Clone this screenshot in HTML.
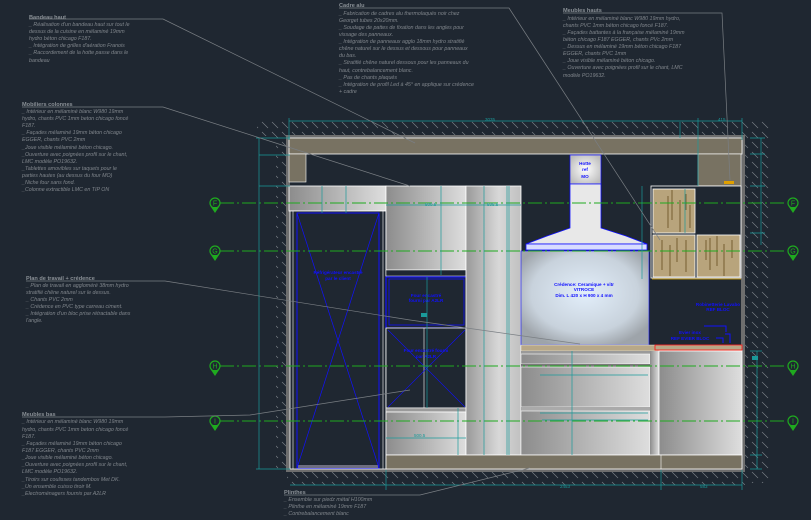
<!DOCTYPE html>
<html><head><meta charset="utf-8"><style>
html,body{margin:0;padding:0;background:#1f2731;}
svg{display:block}
.t{font-family:"Liberation Sans",sans-serif;font-size:5.3px;fill:#80868c;font-style:italic}
.h{font-family:"Liberation Sans",sans-serif;font-size:5.6px;fill:#8a9096;font-weight:bold}
.d{font-family:"Liberation Sans",sans-serif;font-size:4.5px;fill:#1a9a9a}
.b{font-family:"Liberation Sans",sans-serif;font-size:4.6px;fill:#1010ff;font-weight:bold}
.ax{font-family:"Liberation Sans",sans-serif;font-size:7px;fill:#1faa1f}
</style></head><body>
<svg width="811" height="520" viewBox="0 0 811 520" xmlns="http://www.w3.org/2000/svg">
<defs>
<pattern id="hat" width="10" height="10" patternUnits="userSpaceOnUse">
<line x1="2" y1="2" x2="8" y2="8" stroke="#7b8288" stroke-width="0.6"/></pattern>
<linearGradient id="gh" x1="0" x2="1"><stop offset="0" stop-color="#8c8c8c"/><stop offset="1" stop-color="#dedede"/></linearGradient>
<linearGradient id="gh2" x1="0" x2="1"><stop offset="0" stop-color="#9a9a9a"/><stop offset=".6" stop-color="#d8d8d8"/><stop offset="1" stop-color="#c0c0c0"/></linearGradient>
<radialGradient id="gb" cx=".5" cy=".45" r=".6"><stop offset="0" stop-color="#e2eefa"/><stop offset=".7" stop-color="#c8d2dc"/><stop offset="1" stop-color="#9ea4aa"/></radialGradient>
<radialGradient id="gc" cx=".5" cy=".5" r=".6"><stop offset="0" stop-color="#ffffff"/><stop offset="1" stop-color="#bcbcbc"/></radialGradient>
</defs>
<rect width="811" height="520" fill="#1f2731"/>
<!-- hatches -->
<rect x="257" y="121" width="488" height="15" fill="url(#hat)"/>
<rect x="276" y="136" width="11" height="336" fill="url(#hat)"/>
<rect x="745" y="121" width="25" height="362" fill="url(#hat)"/>
<rect x="287" y="472" width="458" height="13" fill="url(#hat)"/>
<!-- walls -->
<rect x="286" y="135" width="459" height="3" fill="#6e6e6e"/>
<rect x="286" y="135" width="4" height="337" fill="#6e6e6e"/>
<rect x="741" y="135" width="4" height="337" fill="#6e6e6e"/>
<rect x="286" y="469" width="459" height="3" fill="#6e6e6e"/>
<!-- bandeau -->
<rect x="289" y="138" width="453" height="16" fill="#787262" stroke="#fff" stroke-width="0.8"/>
<rect x="289" y="154" width="17" height="28" fill="#787262" stroke="#fff" stroke-width="0.6"/>
<rect x="698" y="154" width="43" height="32" fill="#787262" stroke="#fff" stroke-width="0.6"/>
<rect x="698" y="186" width="43" height="47" fill="#7c7668" stroke="#fff" stroke-width="0.6"/>
<!-- left column -->
<rect x="289" y="186" width="97" height="25" fill="url(#gh)" stroke="#fff" stroke-width="0.8"/>
<rect x="290" y="211" width="96" height="258" fill="#1f2731" stroke="#fff" stroke-width="0.8"/>
<line x1="293" y1="211" x2="293" y2="469" stroke="#fff" stroke-width="0.6"/>
<line x1="383" y1="211" x2="383" y2="469" stroke="#fff" stroke-width="0.6"/>
<rect x="297" y="213" width="82" height="255" fill="none" stroke="#1010ff" stroke-width="1"/>
<rect x="298" y="465" width="80" height="3" fill="#6e6e80"/>
<path d="M297 213L379 468M379 213L297 468" stroke="#1010ff" stroke-width="0.7"/>
<text class="b" x="338" y="274" text-anchor="middle">Réfrigérateur encastré</text>
<text class="b" x="338" y="280" text-anchor="middle">par le client</text>
<!-- middle column -->
<rect x="386" y="186" width="80" height="84" fill="url(#gh)" stroke="#fff" stroke-width="0.8"/>
<rect x="386" y="270" width="80" height="6" fill="#1f2731" stroke="#fff" stroke-width="0.5"/>
<rect x="386" y="277" width="81" height="51" fill="#1f2731" stroke="#1010ff" stroke-width="1.2"/>
<rect x="389" y="279" width="75" height="46" fill="none" stroke="#1010ff" stroke-width="0.8"/>
<text class="b" x="426" y="297" text-anchor="middle">Four encastré</text>
<text class="b" x="426" y="302" text-anchor="middle">fourni par A2LR</text>
<rect x="421" y="313" width="6" height="4" fill="#1a9a9a"/>
<rect x="386" y="328" width="80" height="80" fill="#1f2731" stroke="#fff" stroke-width="0.8"/>
<line x1="424" y1="328" x2="424" y2="408" stroke="#fff" stroke-width="0.6"/>
<path d="M388 330L465 407M465 330L388 407" stroke="#1010ff" stroke-width="0.6"/>
<text class="b" x="426" y="352" text-anchor="middle">Four encastré fourni</text>
<text class="b" x="426" y="358" text-anchor="middle">par A2LR</text>
<rect x="386" y="408" width="80" height="4" fill="#9a9a9a" stroke="#fff" stroke-width="0.5"/>
<rect x="386" y="412" width="80" height="43" fill="url(#gh)" stroke="#fff" stroke-width="0.8"/>
<!-- tall col -->
<rect x="466" y="186" width="55" height="269" fill="url(#gh2)" stroke="#fff" stroke-width="0.8"/>
<!-- hood -->
<rect x="570" y="155" width="31" height="29" fill="url(#gc)" stroke="#1010ff" stroke-width="0.7"/>
<text class="b" x="585" y="165" text-anchor="middle">Hotte</text>
<text class="b" x="585" y="171" text-anchor="middle">ref</text>
<text class="b" x="585" y="178" text-anchor="middle">MO</text>
<path d="M570 184H601V228L626 236L647 244H526L547 236L570 228Z" fill="#e8e8e8" stroke="#1010ff" stroke-width="0.8"/>
<rect x="526" y="244" width="121" height="6" fill="#d8dcff" stroke="#1010ff" stroke-width="0.8"/>
<rect x="521" y="251" width="128" height="94" fill="url(#gb)" stroke="#1010ff" stroke-width="0.6"/>
<text class="b" x="584" y="286" text-anchor="middle">Crédence: Ceramique + vitr</text>
<text class="b" x="584" y="291" text-anchor="middle">VITROCE</text>
<text class="b" x="584" y="297" text-anchor="middle">Dim. L 420 x H 900 x 4 mm</text>
<!-- wood upper cabinets -->
<rect x="651" y="186" width="90" height="92" fill="#1f2731" stroke="#fff" stroke-width="0.8"/>
<rect x="653" y="189" width="42" height="44" fill="#b8a47c" stroke="#fff" stroke-width="0.8"/>
<rect x="653" y="235" width="42" height="42" fill="#b8a47c" stroke="#fff" stroke-width="0.8"/>
<rect x="697" y="235" width="43" height="42" fill="#b8a47c" stroke="#fff" stroke-width="0.8"/>
<g stroke="#5a4010" stroke-width="0.7">
<path d="M668 196V228M672 190V220M680 200V232M686 194V210M690 205V228M662 240V270M670 245V276M677 238V262M686 240V272M706 240V260M710 238V270M717 236V266M724 244V276M732 240V258"/></g>
<line x1="652" y1="279" x2="741" y2="279" stroke="#e8b000" stroke-width="0.8"/>
<rect x="724" y="181" width="10" height="3" fill="#e0a000"/>
<!-- tap -->
<path d="M725 334H730V343M716 338H723V343M704 326H726V332" stroke="#1010ff" fill="none" stroke-width="1"/>
<text class="b" x="718" y="306" text-anchor="middle">Robinetterie Lavabo</text>
<text class="b" x="718" y="311" text-anchor="middle">REF BLOC</text>
<text class="b" x="690" y="334" text-anchor="middle">Evier inox</text>
<text class="b" x="690" y="340" text-anchor="middle">REF EVIER BLOC</text>
<!-- worktop -->
<rect x="521" y="345" width="221" height="6" fill="#b8a888" stroke="#fff" stroke-width="0.4"/>
<rect x="655" y="345" width="87" height="5" fill="none" stroke="#ff1010" stroke-width="0.8"/>
<!-- drawers -->
<rect x="521" y="351" width="129" height="3" fill="#9a9a9a"/>
<rect x="521" y="354" width="129" height="10" fill="url(#gh)" stroke="#fff" stroke-width="0.6"/>
<rect x="521" y="364" width="129" height="3" fill="#7a7a7a"/>
<rect x="521" y="367" width="129" height="40" fill="url(#gh)" stroke="#fff" stroke-width="0.6"/>
<rect x="521" y="407" width="129" height="4" fill="#aaa"/>
<rect x="521" y="411" width="129" height="44" fill="url(#gh)" stroke="#fff" stroke-width="0.6"/>
<rect x="650" y="351" width="9" height="104" fill="url(#gh)"/>
<rect x="659" y="351" width="83" height="104" fill="url(#gh)" stroke="#fff" stroke-width="0.8"/>
<rect x="752" y="356" width="6" height="4" fill="#1a9a9a"/>
<!-- plinth -->
<rect x="386" y="455" width="356" height="14" fill="#787262" stroke="#fff" stroke-width="0.8"/>
<line x1="661" y1="455" x2="661" y2="469" stroke="#fff" stroke-width="0.6"/>
<!-- axes -->
<g stroke="#1faa1f" stroke-width="0.9" stroke-dasharray="14 3 2 3">
<line x1="220" y1="203" x2="787" y2="203"/><line x1="220" y1="251" x2="787" y2="251"/>
<line x1="220" y1="366" x2="787" y2="366"/><line x1="220" y1="421" x2="787" y2="421"/></g>
<g fill="none" stroke="#1faa1f" stroke-width="1.2">
<circle cx="215" cy="203" r="5"/><circle cx="215" cy="251" r="5"/><circle cx="215" cy="366" r="5"/><circle cx="215" cy="421" r="5"/>
<circle cx="793" cy="203" r="5"/><circle cx="793" cy="251" r="5"/><circle cx="793" cy="366" r="5"/><circle cx="793" cy="421" r="5"/></g>
<g fill="#1faa1f"><path d="M211 207L219 207L215 213Z"/><path d="M211 255L219 255L215 261Z"/><path d="M211 370L219 370L215 376Z"/><path d="M211 425L219 425L215 431Z"/>
<path d="M789 207L797 207L793 213Z"/><path d="M789 255L797 255L793 261Z"/><path d="M789 370L797 370L793 376Z"/><path d="M789 425L797 425L793 431Z"/></g>
<text class="ax" x="215" y="205.5" text-anchor="middle">F</text><text class="ax" x="215" y="253.5" text-anchor="middle">G</text><text class="ax" x="215" y="368.5" text-anchor="middle">H</text><text class="ax" x="215" y="423.5" text-anchor="middle">I</text>
<text class="ax" x="793" y="205.5" text-anchor="middle">F</text><text class="ax" x="793" y="253.5" text-anchor="middle">G</text><text class="ax" x="793" y="368.5" text-anchor="middle">H</text><text class="ax" x="793" y="423.5" text-anchor="middle">I</text>
<!-- dimensions -->
<g stroke="#1a9a9a" stroke-width="0.7" fill="none">
<path d="M289 121H742M289 118V140M742 118V140"/>
<path d="M259 138V469M256 138H290M256 469H290"/>
<path d="M259 155H290M259 186H290"/>
<path d="M290 485H742M386 470V490M742 470V490"/>
<path d="M661 470V490M680 122V138M698 118V186"/>
<path d="M761 138V245M750 138H765M750 154H765M750 186H765M750 233H765"/>
<path d="M757 351V469M750 351H762M750 455H762M750 469H762"/>
<path d="M346 186V213M322 186V213"/>
<path d="M386 205H521M441 186V275M484 186V455"/>
<path d="M427 277V408M386 438H466M458 408V455"/>
<path d="M507 186V455M509 186V455"/>
<path d="M642 186V279"/>
<path d="M572 351V455M540 375H648M540 413H648M542 420H648"/>
<path d="M685 189V233"/>
</g>
<g class="d">
<text x="485" y="121">3035</text><text x="560" y="488">2453</text><text x="700" y="488">583</text>
<text x="414" y="437">500.5</text><text x="487" y="206">595.5</text><text x="425" y="206">500.5</text>
<text x="718" y="121">415</text>
</g>
<!-- leader lines -->
<g stroke="#7a7f84" stroke-width="0.7" fill="none">
<path d="M29 19H163L415 143"/>
<path d="M22 107H163L260 138L410 186"/>
<path d="M26 281H165L410 320L580 344"/>
<path d="M22 417H165L250 415L410 390"/>
<path d="M284 495H420L530 468"/>
<path d="M339 8H509L660 240"/>
<path d="M563 13H722L730 180"/>
</g>
<!-- annotation texts -->
<text class="h" x="29" y="19">Bandeau haut</text>
<g class="t"><text x="29" y="26">_ Réalisation d'un bandeau haut sur tout le</text><text x="29" y="33">dessus de la cuisine en mélaminé 19mm</text><text x="29" y="40">hydro béton chicago F187.</text><text x="29" y="47">_ Intégration de grilles d'aération Franois</text><text x="29" y="54">_ Raccordement de la hotte passe dans le</text><text x="29" y="62">bandeau</text></g>
<text class="h" x="22" y="106">Mobiliers colonnes</text>
<g class="t"><text x="22" y="113">_ Intérieur en mélaminé blanc W980 19mm</text><text x="22" y="120">hydro, chants PVC 1mm beton chicago foncé</text><text x="22" y="127">F187.</text><text x="22" y="134">_ Façades mélaminé 19mm béton chicago</text><text x="22" y="141">EGGER, chants PVC 2mm</text><text x="22" y="149">_Joue visible mélaminé béton chicago.</text><text x="22" y="156">_Ouverture avec poignées profil sur le chant,</text><text x="22" y="163">LMC modèle PO19632.</text><text x="22" y="170">_Tablettes amovibles sur taquets pour le</text><text x="22" y="177">parties hautes (au dessus du four MO)</text><text x="22" y="184">_Niche four sans fond.</text><text x="22" y="191">_Colonne extractible LMC en TIP ON</text></g>
<text class="h" x="26" y="280">Plan de travail + crédence</text>
<g class="t"><text x="26" y="287">_ Plan de travail en aggloméré 38mm hydro</text><text x="26" y="294">stratifié chêne naturel sur le dessus.</text><text x="26" y="301">_ Chants PVC 2mm</text><text x="26" y="308">_ Crédence en PVC type carreau ciment.</text><text x="26" y="315">_ Intégration d'un bloc prise rétractable dans</text><text x="26" y="322">l'angle.</text></g>
<text class="h" x="22" y="416">Meubles bas</text>
<g class="t"><text x="22" y="423">_ Intérieur en mélaminé blanc W980 19mm</text><text x="22" y="431">hydro, chants PVC 1mm beton chicago foncé</text><text x="22" y="438">F187.</text><text x="22" y="445">_ Façades mélaminé 19mm béton chicago</text><text x="22" y="452">F187 EGGER, chants PVC 2mm</text><text x="22" y="459">_Joue visible mélaminé béton chicago.</text><text x="22" y="466">_Ouverture avec poignées profil sur le chant,</text><text x="22" y="473">LMC modèle PO19632.</text><text x="22" y="481">_Tiroirs sur coulisses tandembox Met DK.</text><text x="22" y="488">_Un ensemble cuisso tiroir M.</text><text x="22" y="495">_Electroménagers fournis par A2LR</text></g>
<text class="h" x="284" y="494">Plinthes</text>
<g class="t"><text x="284" y="501">_ Ensemble sur piedz métal H100mm</text><text x="284" y="508">_ Plinthe en mélaminé 19mm F187</text><text x="284" y="515">_ Contrebalancement blanc</text></g>
<text class="h" x="339" y="7">Cadre alu</text>
<g class="t"><text x="339" y="15">_ Fabrication de cadres alu thermolaqués noir chez</text><text x="339" y="22">Georget tubes 20x20mm.</text><text x="339" y="29">_ Soudage de pattes de fixation dans les angles pour</text><text x="339" y="36">vissage des panneaux.</text><text x="339" y="43">_ Intégration de panneaux agglo 18mm hydro stratifié</text><text x="339" y="50">chêne naturel sur le dessus et dessous pour panneaux</text><text x="339" y="57">du bas.</text><text x="339" y="64">_ Stratifié chêne naturel dessous pour les panneaux du</text><text x="339" y="72">haut, contrebalancement blanc.</text><text x="339" y="79">_ Pas de chants plaqués</text><text x="339" y="86">_ Intégration de profil Led à 45° en applique sur crédence</text><text x="339" y="93">+ cadre</text></g>
<text class="h" x="563" y="12">Meubles hauts</text>
<g class="t"><text x="563" y="20">_ Intérieur en mélaminé blanc W980 19mm hydro,</text><text x="563" y="27">chants PVC 1mm béton chicago foncé F187.</text><text x="563" y="34">_ Façades battantes à la française mélaminé 19mm</text><text x="563" y="41">béton chicago F187 EGGER, chants PVc 2mm</text><text x="563" y="48">_ Dessus en mélaminé 19mm béton chicago F187</text><text x="563" y="55">EGGER, chants PVC 1mm</text><text x="563" y="62">_ Joue visible mélaminé béton chicago.</text><text x="563" y="69">_ Ouverture avec poignées profil sur le chant, LMC</text><text x="563" y="77">modèle PO19632.</text></g>
</svg>
</body></html>
